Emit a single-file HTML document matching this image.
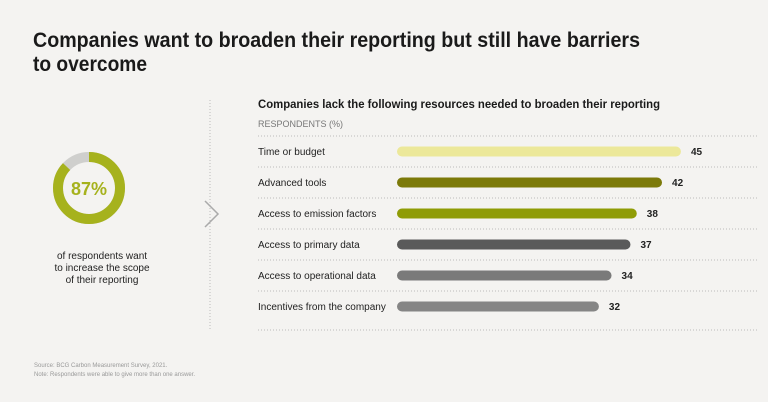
<!DOCTYPE html>
<html><head><meta charset="utf-8"><style>
html,body{margin:0;padding:0;background:#f4f3f1;}
svg{display:block;font-family:"Liberation Sans",sans-serif;}
</style></head><body>
<svg id="chart" width="768" height="402" viewBox="0 0 768 402">
<rect width="768" height="402" fill="#f4f3f1"/>
<text x="33" y="47" font-size="21" font-weight="bold" fill="#1a1a1a" textLength="607" lengthAdjust="spacingAndGlyphs">Companies want to broaden their reporting but still have barriers</text>
<text x="33" y="71" font-size="21" font-weight="bold" fill="#1a1a1a" textLength="114" lengthAdjust="spacingAndGlyphs">to overcome</text>
<g>
<circle cx="89" cy="188" r="31" fill="none" stroke="#cfcfcd" stroke-width="10"/>
<circle id="donutArc" cx="89" cy="188" r="31" fill="none" stroke="#a6b21d" stroke-width="10" transform="rotate(-90 89 188)"/>
<text x="89" y="195" font-size="18" font-weight="bold" fill="#a6b21d" text-anchor="middle">87%</text>
</g>
<g font-size="10" fill="#222" text-anchor="middle">
<text x="102" y="259">of respondents want</text>
<text x="102" y="271">to increase the scope</text>
<text x="102" y="283">of their reporting</text>
</g>
<line x1="210" y1="100" x2="210" y2="330" stroke="#bbb" stroke-dasharray="1 2"/>
<polyline points="205,201 218,214 205,227" fill="none" stroke="#aaa" stroke-width="1.5"/>
<text x="258" y="108" font-size="11.5" font-weight="bold" fill="#1a1a1a" textLength="402" lengthAdjust="spacingAndGlyphs">Companies lack the following resources needed to broaden their reporting</text>
<text x="258" y="127" font-size="9" fill="#777">RESPONDENTS (%)</text>
<g id="bars"></g>
<g font-size="6" fill="#999">
<text x="34" y="367">Source: BCG Carbon Measurement Survey, 2021.</text>
<text x="34" y="376">Note: Respondents were able to give more than one answer.</text>
</g>
</svg>
<script>
const categories=["Time or budget","Advanced tools","Access to emission factors","Access to primary data","Access to operational data","Incentives from the company"];
const values=[45,42,38,37,34,32];
const colors=["#ece89a","#7c7a0a","#8f9c06","#5a5a5a","#7a7a7a","#858585"];
const donutValue=87;
const NS="http://www.w3.org/2000/svg";
const x0=397, sc=6.31, rowTop=136, rowH=31;
const xs=v=>x0+v*sc;
const ys=i=>rowTop+rowH*i+15.5;
const g=document.getElementById('bars');
function mk(t,a){const e=document.createElementNS(NS,t);for(const k in a)e.setAttribute(k,a[k]);g.appendChild(e);return e;}
for(let i=0;i<=categories.length;i++){
  const y=i<categories.length?rowTop+rowH*i:330;
  const l=mk('line',{x1:258,x2:758,y1:y,y2:y,stroke:'#bbb','stroke-dasharray':'1 2'});
  
  
}
categories.forEach((c,i)=>{
  const y=ys(i);
  const t=mk('text',{x:258,y:y+3.5,'font-size':10,fill:'#222'});t.textContent=c;
  
  
  const b=mk('rect',{x:x0,y:y-5,width:xs(values[i])-x0,height:10,rx:5,fill:colors[i]});
  
  
  const v=mk('text',{x:xs(values[i])+10,y:y+3.5,'font-size':10,'font-weight':'bold',fill:'#222'});v.textContent=values[i];
  
  
});
const arc=document.getElementById('donutArc');
const C=2*Math.PI*31;
arc.setAttribute('stroke-dasharray',(C*donutValue/100)+' '+C);
</script>
</body></html>
